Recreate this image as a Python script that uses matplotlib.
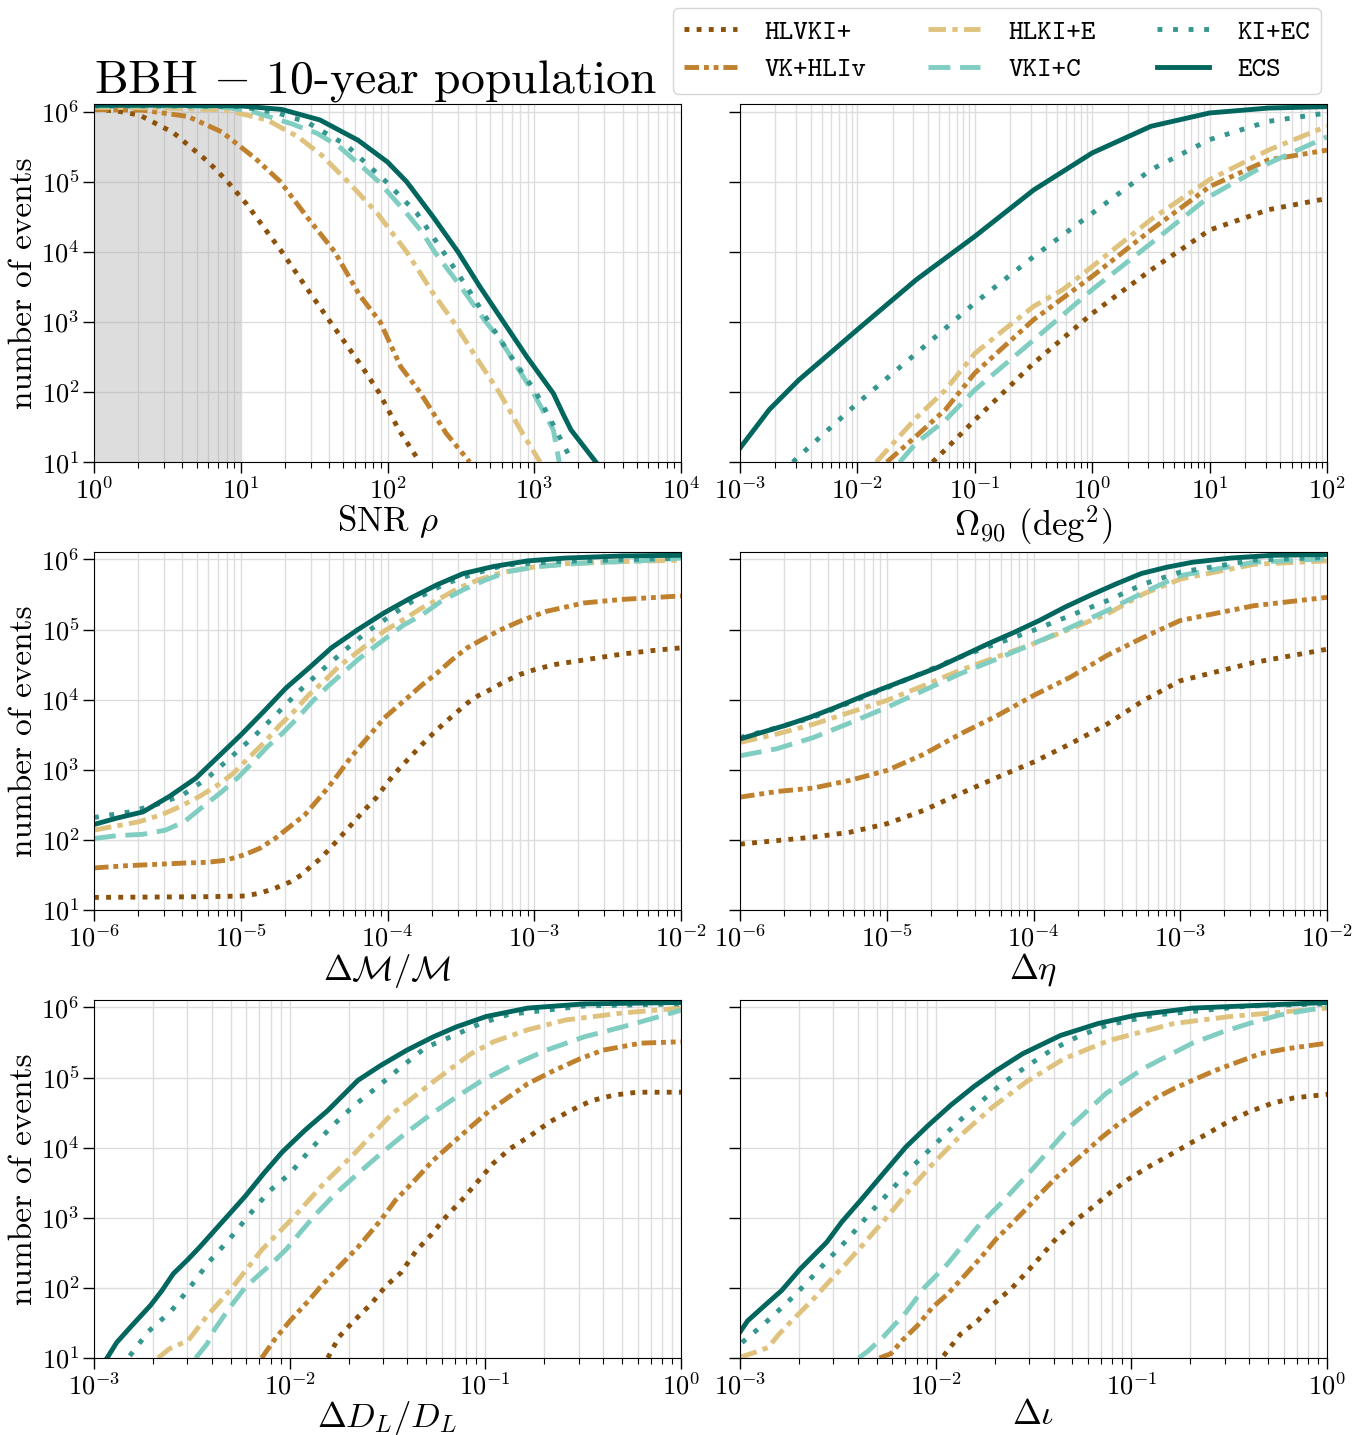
import numpy as np
import matplotlib
matplotlib.use("Agg")
import matplotlib.pyplot as plt

# detector networks and their line styles
networks = ['HLVKI+', 'VK+HLIv', 'HLKI+E', 'VKI+C', 'KI+EC', 'ECS']
colors = ['#8c510a', '#bf812d', '#dfc27d', '#80cdc1', '#35978f', '#01665e']
styles = [(0, (1, 1.5)), (0, (3, 1, 1, 1, 1, 1)), (0, (3.6, 1.3, 1.1, 1.3)),
          (0, (4.5, 2)), (0, (1, 2.2)), '-']

# curves, as (log10 x, log10 N)
snr_curves = {
    'HLVKI+': ([0, 0.15, 0.31, 0.54, 0.78, 0.91, 1.04, 1.28, 1.45, 1.61, 1.82, 1.94, 2.08, 2.22],
               [6.03, 6.01, 5.95, 5.70, 5.28, 5.0, 4.68, 4.0, 3.48, 3.0, 2.38, 2.0, 1.45, 1.0]),
    'VK+HLIv': ([0, 0.33, 0.64, 0.87, 1.10, 1.27, 1.45, 1.64, 1.81, 1.95, 2.09, 2.22, 2.40, 2.56],
                [6.03, 6.02, 5.93, 5.71, 5.33, 5.0, 4.50, 4.0, 3.38, 3.0, 2.36, 2.0, 1.41, 1.0]),
    'HLKI+E': ([0, 0.5, 0.9, 1.18, 1.39, 1.55, 1.73, 1.93, 2.13, 2.31, 2.45, 2.63, 2.76, 2.92, 3.04],
               [6.06, 6.05, 6.02, 5.88, 5.64, 5.38, 5.0, 4.55, 4.0, 3.41, 3.0, 2.41, 2.0, 1.41, 1.0]),
    'VKI+C': ([0, 0.5, 0.9, 1.08, 1.34, 1.52, 1.67, 1.85, 1.94, 2.13, 2.24, 2.32, 2.5, 2.67, 2.77, 2.99, 3.13, 3.17],
              [6.08, 6.08, 6.06, 6.0, 5.83, 5.69, 5.50, 5.17, 5.0, 4.55, 4.27, 4.0, 3.50, 3.0, 2.74, 2.0, 1.46, 1.0]),
    'KI+EC': ([0, 0.5, 1.0, 1.25, 1.45, 1.72, 1.99, 2.20, 2.38, 2.54, 2.69, 2.85, 3.01, 3.13, 3.26],
              [6.08, 6.08, 6.07, 5.98, 5.85, 5.52, 5.0, 4.55, 4.0, 3.5, 3.0, 2.48, 2.0, 1.53, 1.0]),
    'ECS': ([0, 0.5, 1.0, 1.28, 1.54, 1.80, 2.0, 2.13, 2.31, 2.48, 2.63, 2.79, 2.95, 3.13, 3.2, 3.25, 3.42],
            [6.09, 6.09, 6.08, 6.03, 5.88, 5.59, 5.28, 5.0, 4.50, 4.0, 3.5, 3.0, 2.5, 1.98, 1.67, 1.46, 1.0]),
}

omega_curves = {
    'HLVKI+': ([-1.36, -1.25, -1.0, -0.5, 0, 0.5, 1.0, 1.5, 2.0],
               [1.0, 1.18, 1.60, 2.41, 3.12, 3.74, 4.31, 4.60, 4.76]),
    'VK+HLIv': ([-1.75, -1.5, -1.25, -1.0, -0.5, 0, 0.5, 1.0, 1.5, 2.0],
                [1.0, 1.37, 1.75, 2.27, 3.03, 3.65, 4.31, 4.93, 5.31, 5.45]),
    'HLKI+E': ([-1.84, -1.5, -1.25, -1.0, -0.75, -0.5, -0.25, 0, 0.5, 1.0, 1.5, 2.0],
               [1.0, 1.63, 2.03, 2.55, 2.89, 3.22, 3.46, 3.79, 4.46, 5.03, 5.45, 5.79]),
    'VKI+C': ([-1.64, -1.5, -1.25, -1.0, -0.5, 0, 0.5, 1.0, 1.5, 2.0],
              [1.0, 1.27, 1.60, 2.03, 2.74, 3.46, 4.12, 4.79, 5.26, 5.64]),
    'KI+EC': ([-2.55, -2.5, -2.0, -1.5, -1.0, -0.5, 0, 0.5, 1.0, 1.5, 2.0],
              [1.0, 1.08, 1.84, 2.55, 3.27, 3.93, 4.55, 5.17, 5.60, 5.86, 5.98]),
    'ECS': ([-3.0, -2.75, -2.5, -2.0, -1.5, -1.0, -0.5, 0, 0.5, 1.0, 1.5, 2.0],
            [1.20, 1.75, 2.17, 2.89, 3.60, 4.22, 4.88, 5.41, 5.79, 5.98, 6.05, 6.07]),
}

mc_curves = {
    'HLVKI+': ([-6.0, -5.229, -4.973, -4.870, -4.767, -4.664, -4.587, -4.523, -4.459, -4.382, -4.305,
                -4.228, -4.151, -4.073, -3.996, -3.919, -3.842, -3.765, -3.688, -3.611, -3.534,
                -3.457, -3.380, -3.303, -3.200, -3.097, -2.995, -2.866, -2.712, -2.558, -2.404, -2.198, -2.0],
               [1.18, 1.19, 1.20, 1.24, 1.31, 1.40, 1.50, 1.62, 1.73, 1.90, 2.08,
                2.26, 2.44, 2.61, 2.83, 3.02, 3.19, 3.36, 3.52, 3.67, 3.81,
                3.95, 4.06, 4.14, 4.26, 4.36, 4.43, 4.50, 4.55, 4.60, 4.65, 4.70, 4.74]),
    'VK+HLIv': ([-6.0, -5.795, -5.589, -5.384, -5.229, -5.101, -4.973, -4.870, -4.767, -4.664, -4.562,
                 -4.484, -4.407, -4.330, -4.253, -4.176, -4.099, -4.022, -3.945, -3.868, -3.765,
                 -3.662, -3.560, -3.457, -3.354, -3.226, -3.097, -2.918, -2.661, -2.404, -2.0],
                [1.60, 1.63, 1.65, 1.67, 1.68, 1.71, 1.79, 1.88, 2.02, 2.19, 2.36,
                 2.55, 2.74, 2.95, 3.17, 3.36, 3.55, 3.74, 3.88, 4.02, 4.21,
                 4.38, 4.57, 4.74, 4.86, 5.00, 5.12, 5.26, 5.38, 5.43, 5.48]),
    'HLKI+E': ([-6.0, -5.872, -5.692, -5.538, -5.409, -5.281, -5.152, -5.050, -4.947, -4.844, -4.741,
                -4.639, -4.536, -4.433, -4.330, -4.228, -4.125, -4.022, -3.894, -3.765, -3.637,
                -3.508, -3.380, -3.226, -3.046, -2.789, -2.404, -2.0],
               [2.14, 2.19, 2.26, 2.36, 2.48, 2.62, 2.79, 2.95, 3.17, 3.38, 3.62,
                3.83, 4.07, 4.26, 4.48, 4.64, 4.81, 4.98, 5.14, 5.31, 5.45,
                5.60, 5.71, 5.81, 5.88, 5.94, 5.97, 5.99]),
    'VKI+C': ([-6.0, -5.846, -5.666, -5.512, -5.384, -5.255, -5.127, -5.024, -4.921, -4.818, -4.716,
               -4.613, -4.510, -4.407, -4.305, -4.202, -4.099, -3.996, -3.894, -3.765, -3.637,
               -3.483, -3.329, -3.174, -2.969, -2.661, -2.275, -2.0],
              [2.02, 2.06, 2.08, 2.14, 2.26, 2.48, 2.69, 2.88, 3.10, 3.33, 3.52,
               3.74, 3.98, 4.19, 4.38, 4.57, 4.74, 4.90, 5.06, 5.21, 5.40,
               5.57, 5.71, 5.83, 5.90, 5.95, 5.98, 6.02]),
    'KI+EC': ([-6.0, -5.756, -5.550, -5.396, -5.229, -5.062, -4.908, -4.754, -4.613, -4.459, -4.305,
               -4.151, -3.971, -3.804, -3.611, -3.406, -3.200, -2.850, -2.0],
              [2.32, 2.40, 2.52, 2.64, 2.88, 3.19, 3.48, 3.80, 4.10, 4.40, 4.68,
               4.95, 5.21, 5.44, 5.65, 5.80, 5.92, 5.97, 6.02]),
    'ECS': ([-6.0, -5.846, -5.666, -5.486, -5.306, -5.152, -4.998, -4.844, -4.690, -4.536, -4.382,
             -4.202, -4.022, -3.842, -3.662, -3.483, -3.277, -3.046, -2.789, -2.404, -2.0],
            [2.22, 2.31, 2.40, 2.62, 2.88, 3.19, 3.50, 3.83, 4.17, 4.45, 4.74,
             5.0, 5.24, 5.45, 5.64, 5.80, 5.90, 5.98, 6.02, 6.05, 6.06]),
}

eta_x = [-6.0, -5.75, -5.5, -5.25, -5.0, -4.75, -4.5, -4.25, -4.0, -3.75, -3.5, -3.25, -3.0, -2.5, -2.0]
eta_curves = {
    'HLVKI+': (eta_x, [1.94, 1.99, 2.04, 2.11, 2.23, 2.42, 2.66, 2.89, 3.11, 3.37, 3.65, 3.99, 4.27, 4.53, 4.72]),
    'VK+HLIv': (eta_x, [2.61, 2.69, 2.74, 2.85, 2.99, 3.22, 3.51, 3.77, 4.06, 4.32, 4.63, 4.89, 5.13, 5.34, 5.46]),
    'HLKI+E': (eta_x, [3.39, 3.51, 3.65, 3.82, 3.99, 4.20, 4.42, 4.61, 4.80, 5.01, 5.22, 5.51, 5.72, 5.93, 5.98]),
    'VKI+C': (eta_x, [3.20, 3.30, 3.46, 3.67, 3.89, 4.13, 4.37, 4.58, 4.80, 5.03, 5.27, 5.53, 5.77, 5.96, 6.01]),
    'KI+EC': (eta_x, [3.46, 3.60, 3.75, 3.96, 4.17, 4.39, 4.61, 4.80, 4.99, 5.20, 5.41, 5.65, 5.82, 5.99, 6.03]),
    'ECS': ([-6.0, -5.841, -5.696, -5.522, -5.349, -5.175, -5.001, -4.827, -4.654, -4.480, -4.307,
             -4.133, -3.960, -3.786, -3.612, -3.439, -3.265, -3.091, -2.918, -2.657, -2.368, -2.0],
            [3.44, 3.54, 3.63, 3.75, 3.89, 4.04, 4.18, 4.32, 4.46, 4.63, 4.80,
             4.96, 5.13, 5.32, 5.49, 5.65, 5.80, 5.89, 5.96, 6.02, 6.06, 6.07]),
}

dl_curves = {
    'HLVKI+': ([-1.805, -1.748, -1.671, -1.584, -1.507, -1.430, -1.353, -1.276, -1.199, -1.121, -1.044,
                -0.958, -0.871, -0.775, -0.669, -0.563, -0.457, -0.341, -0.225, 0],
               [1.0, 1.30, 1.53, 1.77, 2.03, 2.22, 2.53, 2.76, 3.02, 3.25, 3.50,
                3.78, 3.99, 4.16, 4.37, 4.53, 4.67, 4.75, 4.79, 4.79]),
    'VK+HLIv': ([-2.143, -2.075, -1.998, -1.902, -1.844, -1.748, -1.651, -1.536, -1.459, -1.362, -1.266,
                 -1.170, -1.073, -0.977, -0.881, -0.784, -0.649, -0.514, -0.399, -0.206, 0],
                [1.0, 1.27, 1.53, 1.82, 2.01, 2.30, 2.58, 2.96, 3.25, 3.53, 3.82,
                 4.06, 4.30, 4.53, 4.72, 4.91, 5.10, 5.27, 5.39, 5.49, 5.51]),
    'HLKI+E': ([-2.672, -2.615, -2.518, -2.422, -2.297, -2.143, -1.979, -1.825, -1.671, -1.478, -1.266,
                -1.073, -0.958, -0.784, -0.591, -0.301, 0],
               [1.0, 1.13, 1.25, 1.60, 1.99, 2.54, 3.01, 3.49, 3.91, 4.48, 4.94,
                5.34, 5.51, 5.68, 5.82, 5.92, 5.99]),
    'VKI+C': ([-2.480, -2.422, -2.383, -2.306, -2.229, -2.171, -2.094, -2.017, -1.940, -1.863, -1.767,
               -1.651, -1.536, -1.401, -1.285, -1.150, -1.015, -0.881, -0.688, -0.495, -0.302, -0.148, 0],
              [1.0, 1.20, 1.41, 1.72, 2.00, 2.15, 2.34, 2.55, 2.81, 3.06, 3.34,
               3.63, 3.91, 4.22, 4.46, 4.72, 4.96, 5.15, 5.39, 5.58, 5.72, 5.84, 5.96]),
    'KI+EC': ([-2.817, -2.721, -2.605, -2.509, -2.412, -2.306, -2.210, -2.104, -1.998, -1.892, -1.786,
               -1.671, -1.545, -1.430, -1.304, -1.160, -1.025, -0.881, -0.495, 0],
              [1.03, 1.38, 1.67, 2.01, 2.37, 2.70, 3.03, 3.38, 3.63, 3.98, 4.30,
               4.60, 4.88, 5.15, 5.43, 5.60, 5.77, 5.90, 6.02, 6.05]),
    'ECS': ([-2.933, -2.884, -2.807, -2.711, -2.653, -2.595, -2.518, -2.460, -2.383, -2.306, -2.229,
             -2.133, -2.037, -1.921, -1.805, -1.651, -1.536, -1.401, -1.266, -1.150, -0.996, -0.784, -0.495, 0],
            [1.0, 1.22, 1.46, 1.75, 1.96, 2.20, 2.41, 2.58, 2.82, 3.06, 3.30,
             3.63, 3.94, 4.25, 4.53, 4.96, 5.17, 5.39, 5.58, 5.72, 5.87, 5.99, 6.05, 6.07]),
}

iota_curves = {
    'HLVKI+': ([-1.960, -1.873, -1.786, -1.709, -1.613, -1.536, -1.459, -1.382, -1.295, -1.199, -1.112,
                -1.015, -0.910, -0.813, -0.707, -0.611, -0.505, -0.399, -0.283, -0.168, 0],
               [1.03, 1.34, 1.53, 1.76, 1.99, 2.22, 2.46, 2.71, 2.94, 3.15, 3.35,
                3.55, 3.73, 3.88, 4.05, 4.20, 4.37, 4.51, 4.63, 4.71, 4.76]),
    'VK+HLIv': ([-2.287, -2.229, -2.171, -2.094, -2.017, -1.940, -1.844, -1.767, -1.690, -1.613, -1.536,
                 -1.459, -1.382, -1.304, -1.227, -1.150, -1.073, -0.977, -0.881, -0.784, -0.688, -0.572,
                 -0.457, -0.341, -0.206, 0],
                [1.0, 1.06, 1.25, 1.46, 1.72, 1.91, 2.20, 2.44, 2.70, 2.91, 3.13,
                 3.36, 3.58, 3.77, 3.96, 4.15, 4.32, 4.51, 4.70, 4.84, 4.96, 5.10,
                 5.22, 5.34, 5.41, 5.49]),
    'HLKI+E': ([-3.0, -2.923, -2.855, -2.807, -2.750, -2.682, -2.615, -2.538, -2.460, -2.383, -2.249,
                -2.133, -2.008, -1.863, -1.709, -1.536, -1.343, -1.112, -0.784, -0.495, -0.206, 0],
               [1.01, 1.08, 1.15, 1.32, 1.49, 1.68, 1.87, 2.11, 2.34, 2.58, 3.01,
                3.40, 3.79, 4.20, 4.58, 4.94, 5.27, 5.53, 5.77, 5.87, 5.94, 5.99]),
    'VKI+C': ([-2.393, -2.345, -2.268, -2.152, -2.056, -1.940, -1.786, -1.651, -1.497, -1.324, -1.131,
               -0.938, -0.688, -0.534, -0.399, -0.245, 0],
              [1.0, 1.10, 1.30, 1.65, 2.01, 2.34, 2.87, 3.25, 3.72, 4.27, 4.77,
               5.13, 5.49, 5.65, 5.77, 5.89, 6.01]),
    'KI+EC': ([-2.990, -2.875, -2.759, -2.663, -2.547, -2.441, -2.335, -2.229, -2.123, -2.017, -1.911,
               -1.796, -1.671, -1.545, -1.410, -1.276, -1.121, -0.881, -0.399, 0],
              [1.22, 1.49, 1.79, 2.06, 2.41, 2.72, 3.07, 3.39, 3.72, 4.01, 4.30,
               4.59, 4.89, 5.14, 5.39, 5.58, 5.75, 5.89, 6.02, 6.05]),
    'ECS': ([-3.0, -2.961, -2.865, -2.788, -2.692, -2.557, -2.480, -2.383, -2.268, -2.152, -2.037,
             -1.921, -1.805, -1.690, -1.555, -1.362, -1.170, -0.977, -0.688, 0],
            [1.37, 1.53, 1.77, 1.96, 2.27, 2.65, 2.94, 3.25, 3.63, 4.01, 4.32,
             4.61, 4.87, 5.10, 5.34, 5.60, 5.77, 5.89, 5.99, 6.07]),
}

panels = [
    (snr_curves, (1e0, 1e4), r'SNR $\rho$'),
    (omega_curves, (1e-3, 1e2), r'$\Omega_{90}$ (deg$^2$)'),
    (mc_curves, (1e-6, 1e-2), r'$\Delta\mathcal{M}/\mathcal{M}$'),
    (eta_curves, (1e-6, 1e-2), r'$\Delta\eta$'),
    (dl_curves, (1e-3, 1e0), r'$\Delta D_L/D_L$'),
    (iota_curves, (1e-3, 1e0), r'$\Delta\iota$'),
]

plt.rcParams['font.family'] = ['cmr10', 'DejaVu Serif']
plt.rcParams['mathtext.fontset'] = 'cm'
plt.rcParams['axes.formatter.use_mathtext'] = True

fig, axes = plt.subplots(3, 2, figsize=(13.66, 14.35), dpi=100, sharey=True)
fig.subplots_adjust(left=0.0688, right=0.9715, top=0.9275, bottom=0.0537,
                    wspace=0.1005, hspace=0.251)

for ax, (curves, xlim, xlabel) in zip(axes.flat, panels):
    for name, c, ls in zip(networks, colors, styles):
        lx, ly = curves[name]
        ax.plot(10 ** np.array(lx), 10 ** np.array(ly), color=c, ls=ls, lw=3.5, label=name)
    ax.set_xscale('log')
    ax.set_yscale('log')
    ax.set_xlim(*xlim)
    ax.set_ylim(10, 1.28e6)
    ax.set_xlabel(xlabel, fontsize=25, labelpad=0)
    ax.grid(True, which='major', color='#dddddd', lw=1.0)
    ax.grid(True, which='minor', axis='x', color='#dddddd', lw=1.0)
    ax.set_axisbelow(True)
    ax.tick_params(which='major', length=8, width=1, labelsize=19, pad=2.5, direction='out')
    ax.tick_params(which='minor', length=4, width=0.8, direction='out')
    ax.tick_params(axis='y', which='minor', left=False)
    ax.set_yticks([1e1, 1e2, 1e3, 1e4, 1e5, 1e6])

# SNR below threshold
axes[0, 0].axvspan(1, 10, color='#a0a0a0', alpha=0.35, lw=0, zorder=1)

for ax in axes[:, 0]:
    ax.set_ylabel('number of events', fontsize=24, labelpad=2)

fig.text(94 / 1366, 1 - 93 / 1435, r'BBH $-$ 10-year population', fontsize=34.3,
         ha='left', va='baseline')

handles, labels = axes[0, 0].get_legend_handles_labels()
fig.legend(handles, labels, loc='upper right', ncol=3,
           bbox_to_anchor=(1321 / 1366, 1 - 8 / 1435), borderaxespad=0,
           prop={'family': 'cmtt10', 'size': 20}, handlelength=1.9, handletextpad=1.0,
           columnspacing=2.2, borderpad=0.4, labelspacing=0.45)

plt.savefig('out.png', dpi=100)
